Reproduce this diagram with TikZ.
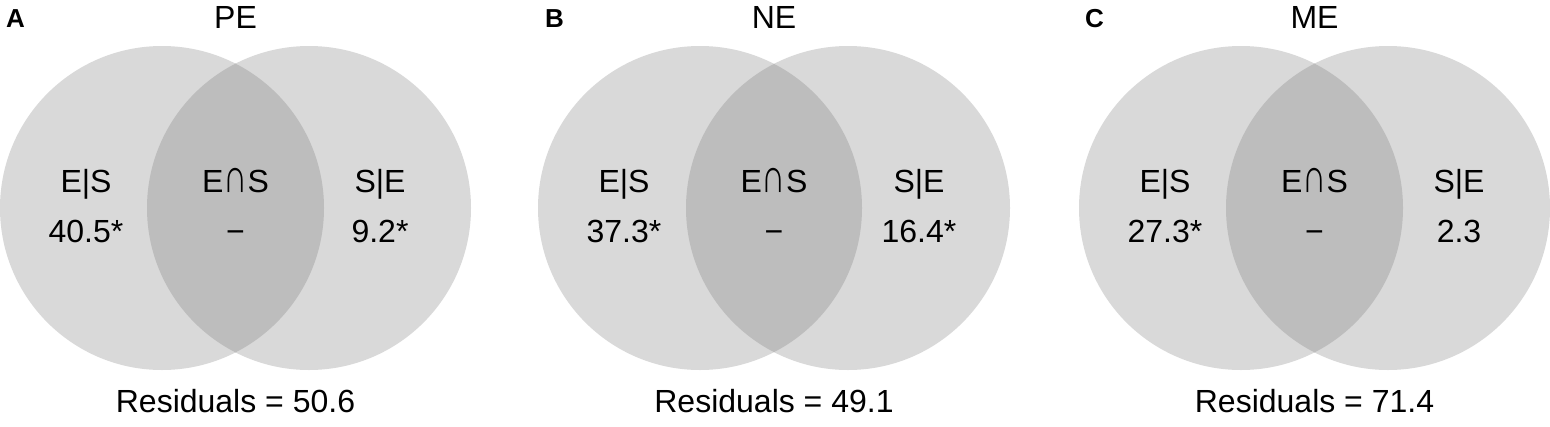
\documentclass[tikz,border=0pt]{standalone}
\usepackage{fontspec}
\usepackage{graphicx}
\setmainfont{Liberation Sans}
\definecolor{vennfill}{HTML}{D9D9D9}
\definecolor{venninter}{HTML}{BDBDBD}
\tikzset{
  lbl/.style={anchor=base, inner sep=0pt, font=\fontsize{32}{38}\selectfont},
  panel/.style={anchor=base west, inner sep=0pt, font=\fontsize{26}{30}\selectfont\bfseries},
  venn/.style={circle, fill=vennfill, minimum size=324pt, inner sep=0pt, draw=none},
}
\newcommand{\capsym}{\scalebox{1.05}[1.5]{∩}}
\newcommand{\vennpanel}[9]{%
  % #1 prefix, #2 left centre x, #3 right centre x, #4 letter x, #5 letter, #6 title, #7 left value, #8 right value, #9 residual
  \node[venn] (#1L) at (#2pt,-208pt) {};
  \node[venn] (#1R) at (#3pt,-208pt) {};
  \begin{scope}
    \clip (#2pt,-208pt) circle (162pt);
    \fill[venninter] (#3pt,-208pt) circle (162pt);
  \end{scope}
  \path (#1L.center) -- (#1R.center) coordinate[pos=0.5] (#1M);
  \node[panel] (#1letter) at (#4pt,-27pt) {#5};
  \node[lbl] (#1title) at ([yshift=-28pt]#1M |- 0,0) {#6};
  \node[lbl] (#1lt) at ([xshift=-76pt,yshift=-192pt]#1L.center |- 0,0) {E|S};
  \node[lbl] (#1lv) at ([xshift=-76pt,yshift=-242pt]#1L.center |- 0,0) {#7};
  \node[lbl] (#1mt) at ([yshift=-192pt]#1M |- 0,0) {E\capsym S};
  \node[lbl] (#1mv) at ([yshift=-242pt]#1M |- 0,0) {−};
  \node[lbl] (#1rt) at ([xshift=71pt,yshift=-192pt]#1R.center |- 0,0) {S|E};
  \node[lbl] (#1rv) at ([xshift=71pt,yshift=-242pt]#1R.center |- 0,0) {#8};
  \node[lbl] (#1res) at ([yshift=-412pt]#1M |- 0,0) {Residuals = #9};
}
\begin{document}
\begin{tikzpicture}
\useasboundingbox (0pt,0pt) rectangle (1550pt,-426pt);
\vennpanel{a}{162}{309}{6}{A}{PE}{40.5*}{9.2*}{50.6}
\vennpanel{b}{700}{848}{545}{B}{NE}{37.3*}{16.4*}{49.1}
\vennpanel{c}{1241}{1388}{1085}{C}{ME}{27.3*}{2.3}{71.4}
\end{tikzpicture}
\end{document}
